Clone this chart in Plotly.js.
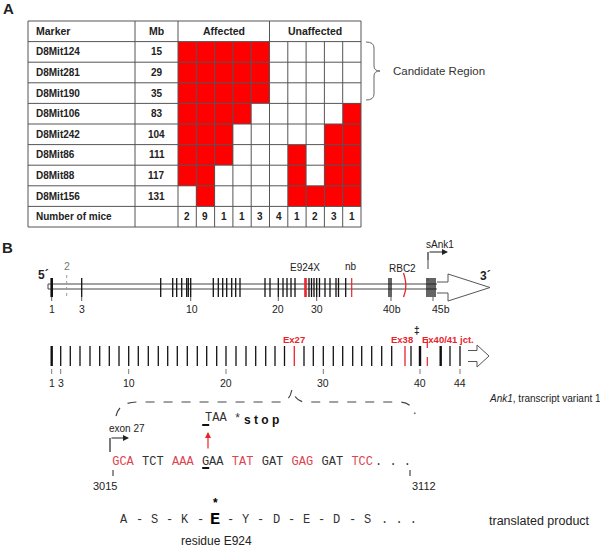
<!DOCTYPE html>
<html>
<head>
<meta charset="utf-8">
<script src="https://cdn.plot.ly/plotly-3.0.1.min.js"></script>
<style>
  body { margin: 0; background: #fff; }
  #chart { width: 600px; height: 549px; }
</style>
</head>
<body>
<div id="chart"></div>
<script>
// ---- panel A: haplotype table ----
const markers = ['D8Mit124', 'D8Mit281', 'D8Mit190', 'D8Mit106', 'D8Mit242', 'D8Mit86', 'D8Mit88', 'D8Mit156'];
const markerMb = [15, 29, 35, 83, 104, 111, 117, 131];
const groups = ['Affected', 'Unaffected'];
const miceCounts = [2, 9, 1, 1, 3, 4, 1, 2, 3, 1];
// 1 = red cell
const genotype = [
  [1, 1, 1, 1, 1, 0, 0, 0, 0, 0],
  [1, 1, 1, 1, 1, 0, 0, 0, 0, 0],
  [1, 1, 1, 1, 1, 0, 0, 0, 0, 0],
  [1, 1, 1, 1, 0, 0, 0, 0, 0, 1],
  [1, 1, 1, 0, 0, 0, 0, 0, 1, 1],
  [1, 1, 1, 0, 0, 0, 1, 0, 1, 1],
  [1, 1, 0, 0, 0, 0, 1, 0, 1, 1],
  [0, 1, 0, 0, 0, 0, 1, 1, 1, 1]
];

// ---- panel B: exon positions along the drawing ----
const genomicExonX = [81.7, 160.7, 172.7, 176.7, 181.7, 186.7, 188.3, 190.7, 213.3, 218.3, 222.7, 226.7,
  231.7, 235.7, 240, 265, 270, 278.3, 283, 287, 291, 295, 309, 311.5, 314, 316.7, 319.5, 325, 330,
  336, 338.5, 345.7, 389, 391, 427, 429, 431, 433, 435];
const genomicFirstX = 51.7;
const genomicExon2X = 66.7;
const genomicRedX = [305.5, 351.7];
const genomicRedW = [2.6, 1.2];
const genomicLabels = ['1', '3', '10', '20', '30', '40b', '45b'];
const genomicLabelTick = [51.7, 81.7, 190.7, 278.3, 316.7, 391, 433];
const genomicLabelX = [52, 82, 192, 278, 317, 392, 441];

const transcriptExonX = [60.7, 70.3, 80, 90, 99.7, 109.3, 119, 128.7, 138.3, 148.3, 158.3, 167.7, 177.3,
  187.3, 197.3, 206.7, 216.7, 226, 236, 246, 255.7, 265.7, 275, 284.5, 304, 313.3, 323.3, 333.3,
  342.7, 352.7, 361.7, 371.7, 381.7, 391.7, 411, 450, 460];
const transcriptThickX = [51.7, 420, 440.7];
const transcriptRedX = [294.3, 405];
const transcriptJctX = 427.3;
const transcriptLabels = ['1', '3', '10', '20', '30', '40', '44'];
const transcriptLabelX = [51.7, 60.7, 128.7, 226, 323.3, 420, 460];

const codons = ['GCA', 'TCT', 'AAA', 'GAA', 'TAT', 'GAT', 'GAG', 'GAT', 'TCC'];
const codonRed = [1, 0, 1, 0, 1, 0, 1, 0, 1];
const residues = ['A', 'S', 'K', 'E', 'Y', 'D', 'E', 'D', 'S'];
const mutantIndex = 3;

const SANS = 'Liberation Sans, Arial, sans-serif';
const MONO = 'Liberation Mono, Courier New, monospace';
const INK = '#222';
const RED = '#e8232b';
const SEQ_RED = '#dc4450';

const traces = [];
const annotations = [];
const shapes = [];

function addLines(list, color, width, dash) {
  const x = [], y = [];
  list.forEach(s => { x.push(s[0], s[2], null); y.push(s[1], s[3], null); });
  traces.push({
    type: 'scatter', mode: 'lines', x, y,
    line: { color, width, dash: dash || 'solid' },
    hoverinfo: 'skip', showlegend: false
  });
}

function addText(x, y, text, size, opt) {
  opt = opt || {};
  annotations.push({
    x, y, xref: 'x', yref: 'y', showarrow: false,
    text: opt.bold ? '<b>' + text + '</b>' : text,
    xanchor: opt.anchor || 'center', yanchor: 'middle', borderpad: 0,
    font: { family: opt.family || SANS, size, color: opt.color || INK }
  });
}

function addArrow(x0, y0, x1, y1, color) {
  annotations.push({
    x: x1, y: y1, ax: x0, ay: y0, xref: 'x', yref: 'y', axref: 'x', ayref: 'y',
    text: '', showarrow: true, arrowhead: 2, arrowsize: 1, arrowwidth: 1.2,
    arrowcolor: color, standoff: 0, startstandoff: 0
  });
}

// ---- table layout ----
const tblL = 28, colMarkerR = 135, colMbR = 178, cellW = 18.3;
const tblTop = 21, rowH = 20.6;
const nCols = miceCounts.length;
const nRows = markers.length + 2;
const tblR = colMbR + nCols * cellW;
const tblBot = tblTop + nRows * rowH;
const colCenter = i => colMbR + (i + 0.5) * cellW;
const rowCenter = r => tblTop + (r + 0.5) * rowH;

traces.push({
  type: 'heatmap',
  z: genotype,
  x: miceCounts.map((_, i) => colCenter(i)),
  y: markers.map((_, r) => rowCenter(r + 1)),
  zmin: 0, zmax: 1,
  colorscale: [[0, '#ffffff'], [1, '#ff0000']],
  showscale: false, hoverinfo: 'skip'
});

const grid = [];
for (let r = 0; r <= nRows; r++) {
  const y = tblTop + r * rowH;
  grid.push([tblL, y, tblR, y]);
}
[tblL, colMarkerR, colMbR, tblR, colMbR + 5 * cellW].forEach(x => grid.push([x, tblTop, x, tblBot]));
for (let i = 1; i < nCols; i++) {
  if (i === 5) continue;
  const x = colMbR + i * cellW;
  grid.push([x, tblTop + rowH, x, tblBot]);
}
addLines(grid, '#555', 1);

addText(35, rowCenter(0), 'Marker', 10.5, { bold: true, anchor: 'left' });
addText((colMarkerR + colMbR) / 2, rowCenter(0), 'Mb', 10.5, { bold: true });
groups.forEach((g, k) => addText(colMbR + (k * 5 + 2.5) * cellW, rowCenter(0), g, 10.5, { bold: true }));
markers.forEach((m, r) => {
  addText(35, rowCenter(r + 1), m, 10, { bold: true, anchor: 'left' });
  addText((colMarkerR + colMbR) / 2, rowCenter(r + 1), String(markerMb[r]), 10, { bold: true });
});
addText(35, rowCenter(nRows - 1), 'Number of mice', 10, { bold: true, anchor: 'left' });
miceCounts.forEach((c, i) => addText(colCenter(i), rowCenter(nRows - 1), String(c), 10, { bold: true }));

// candidate region bracket
shapes.push({
  type: 'path', xref: 'x', yref: 'y',
  path: 'M366,42 Q374,42 374,48 L374,66 Q374,71 380,71 Q374,71 374,76 L374,94 Q374,100 366,100',
  line: { color: '#666', width: 1 }
});
addText(392, 71, 'Candidate Region', 11.5, { anchor: 'left', color: '#333' });

addText(8, 8, 'A', 15, { bold: true });
addText(7, 247, 'B', 15, { bold: true });

// ---- genomic structure ----
const gy1 = 284, gy2 = 289, eTop = 278, eBot = 297;
addLines([[48, gy1, 437, gy1], [48, gy2, 437, gy2], [48, gy1, 48, gy2]], '#444', 1);
addLines(genomicExonX.map(x => [x, eTop, x, eBot]), '#111', 1.3);
addLines([[genomicFirstX, eTop, genomicFirstX, eBot]], '#111', 2.6);
addLines([[genomicExon2X, eTop - 3, genomicExon2X, eBot + 1]], '#999', 1, 'dot');
genomicRedX.forEach((x, i) => addLines([[x, eTop, x, eBot]], RED, genomicRedW[i]));
addLines(genomicLabelTick.map(x => [x, eBot, x, 301]), '#333', 0.8);
genomicLabels.forEach((t, i) => addText(genomicLabelX[i], 309, t, 10.5));
addText(67, 266, '2', 10.5, { color: '#777' });

// RBC2 red mark
traces.push({
  type: 'scatter', mode: 'lines', x: [403.5, 405.5, 405.5, 403.5], y: [273, 281, 290, 297],
  line: { color: RED, width: 1.3, shape: 'spline' }, hoverinfo: 'skip', showlegend: false
});

// 3' arrow
traces.push({
  type: 'scatter', mode: 'lines', fill: 'toself', fillcolor: '#fff',
  x: [437, 448, 448, 490, 448, 448, 437], y: [282, 282, 274, 287.5, 301, 293, 293],
  line: { color: '#555', width: 1 }, hoverinfo: 'skip', showlegend: false
});
addText(43, 275, '5´', 12, { bold: true });
addText(485, 276, '3´', 12, { bold: true });
addText(305, 267, 'E924X', 10);
addText(351, 266, 'nb', 10);
addText(402, 268, 'RBC2', 10);

// sAnk1 promoter
addLines([[428, 260, 428, 281]], '#444', 1, 'dash');
addLines([[428, 260, 428, 252]], INK, 1.2);
addArrow(428, 252, 448, 252, INK);
addText(440, 244, 'sAnk1', 10);

// ---- transcript variant 1 ----
const tTop = 346, tBot = 366;
addLines(transcriptExonX.map(x => [x, tTop, x, tBot]), '#111', 1.3);
addLines(transcriptThickX.map(x => [x, tTop, x, tBot]), '#111', 2.4);
addLines(transcriptRedX.map(x => [x, tTop, x, tBot]), RED, 1.3);
addLines([[transcriptJctX, 339, transcriptJctX, 369]], RED, 1.2, 'dash');
addLines(transcriptLabelX.map(x => [x, 369, x, 374]), '#555', 0.8);
transcriptLabels.forEach((t, i) => addText(transcriptLabelX[i], 383, t, 10.5));
traces.push({
  type: 'scatter', mode: 'lines', fill: 'toself', fillcolor: '#fff',
  x: [468, 477, 477, 489, 477, 477, 468], y: [350.5, 350.5, 345, 356, 367, 361.5, 361.5],
  line: { color: '#555', width: 1 }, hoverinfo: 'skip', showlegend: false
});
addText(294, 339, 'Ex27', 9.5, { bold: true, color: RED });
addText(402, 339, 'Ex38', 9.5, { bold: true, color: RED });
addText(448, 339, 'Ex40/41 jct.', 9.5, { bold: true, color: RED });
addText(417, 330, '‡', 10, { bold: true });
addText(488, 398, '<i>Ank1</i>, transcript variant 1', 10, { anchor: 'left' });

// dashed brace to exon 27 sequence
shapes.push({
  type: 'path', xref: 'x', yref: 'y',
  path: 'M116,416 Q119,402 138,402 L280,402 Q290,402 292,389 Q295,402 306,402 L398,402 Q412,402 415,414',
  line: { color: '#444', width: 1.2, dash: 'dash' }
});

// ---- sequence ----
const codonX0 = 123, codonStep = 29.9, seqY = 462;
traces.push({
  type: 'scatter', mode: 'text',
  x: codons.map((_, i) => codonX0 + i * codonStep), y: codons.map(() => seqY),
  text: codons, textposition: 'middle center',
  textfont: { family: MONO, size: 12, color: codonRed.map(r => r ? SEQ_RED : '#333') },
  hoverinfo: 'skip', showlegend: false
});
addText(374, seqY, '. . .', 12, { family: MONO, anchor: 'left', color: '#333' });
const gX = codonX0 + mutantIndex * codonStep - 7.5;
addLines([[gX - 3, 468, gX + 4, 468], [gX - 3, 425, gX + 4, 425]], '#111', 2);
addText(215.5, 418, 'TAA', 12, { family: MONO, color: '#333' });
addText(237, 419, '*', 12, { family: MONO, color: '#333' });
addText(243, 420, 's t o p', 12, { bold: true, anchor: 'left', color: '#111' });
addArrow(208, 450, 208, 432, RED);

addLines([[110, 452, 110, 438]], INK, 1.2);
addArrow(110, 438, 129, 438, INK);
addText(127, 428, 'exon 27', 10);
addLines([[113, 470, 113, 476], [410, 470, 410, 476]], INK, 1);
addText(105, 486, '3015', 11);
addText(424, 486, '3112', 11);

// ---- translated product ----
const resX0 = 124, resStep = 30.4, resY = 520;
residues.forEach((r, i) => {
  const x = resX0 + i * resStep;
  if (i === mutantIndex) {
    addText(x, resY - 1, r, 17, { family: MONO, bold: true, color: '#000' });
    addText(x, 503, '*', 12, { bold: true, color: '#000' });
  } else {
    addText(x, resY, r, 12, { family: MONO, color: '#333' });
  }
  if (i < residues.length - 1) addText(x + resStep / 2, resY, '-', 12, { family: MONO, color: '#333' });
});
addText(380, resY, '. . .', 12, { family: MONO, anchor: 'left', color: '#333' });
addText(216, 541, 'residue E924', 12);
addText(488, 521, 'translated product', 12.5, { anchor: 'left' });

const layout = {
  width: 600, height: 549,
  margin: { l: 0, r: 0, t: 0, b: 0 },
  paper_bgcolor: '#fff', plot_bgcolor: '#fff',
  xaxis: { range: [0, 600], visible: false, fixedrange: true },
  yaxis: { range: [549, 0], visible: false, fixedrange: true },
  showlegend: false,
  annotations, shapes
};

Plotly.newPlot('chart', traces, layout, { staticPlot: true });
</script>
</body>
</html>
